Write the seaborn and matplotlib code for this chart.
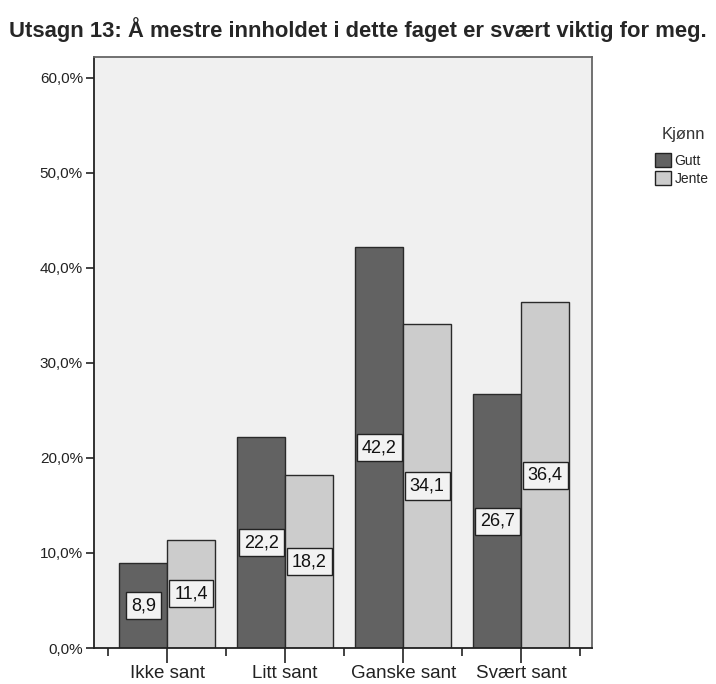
import matplotlib
matplotlib.use("Agg")
import matplotlib.pyplot as plt
from matplotlib.patches import Patch
from matplotlib.ticker import FixedLocator, FuncFormatter
import seaborn as sns
import pandas as pd

categories = ["Ikke sant", "Litt sant", "Ganske sant", "Svært sant"]
groups = ["Gutt", "Jente"]
gutt = [8.9, 22.2, 42.2, 26.7]
jente = [11.4, 18.2, 34.1, 36.4]
ytick_values = [0, 10, 20, 30, 40, 50, 60]

title = "Utsagn 13: Å mestre innholdet i dette faget er svært viktig for meg."
legend_title = "Kjønn"

colors = {"Gutt": "#626262", "Jente": "#cccccc"}

df = pd.DataFrame({
    "kategori": categories * 2,
    "kjonn": ["Gutt"] * len(categories) + ["Jente"] * len(categories),
    "prosent": gutt + jente,
})

sns.set_style("ticks")
plt.rcParams["font.family"] = ["Liberation Sans", "DejaVu Sans"]

fig = plt.figure(figsize=(7.16, 6.84), dpi=100)
ax = fig.add_axes([94 / 716, 1 - 648 / 684, (592 - 94) / 716, (648 - 57) / 684])
ax.set_facecolor("#f0f0f0")

sns.barplot(
    data=df, x="kategori", y="prosent", hue="kjonn",
    order=categories, hue_order=groups, palette=colors,
    width=0.81, edgecolor="#2a2a2a", linewidth=1.0,
    legend=False, ax=ax, errorbar=None, saturation=1,
)

# value labels in the middle of each bar
for container, vals in zip(ax.containers, [gutt, jente]):
    ax.bar_label(
        container,
        labels=[f"{v:.1f}".replace(".", ",") for v in vals],
        label_type="center", fontsize=13, color="#111111",
        bbox=dict(boxstyle="square,pad=0.28", facecolor="#f2f2f2",
                  edgecolor="#222222", linewidth=1.0),
    )

ax.set_xlim(-0.62, 3.6)
ax.set_ylim(0, 62.2)
ax.set_xlabel("")
ax.set_ylabel("")

ax.yaxis.set_major_locator(FixedLocator(ytick_values))
ax.yaxis.set_major_formatter(FuncFormatter(lambda v, p: f"{v:.1f}%".replace(".", ",")))
ax.tick_params(axis="y", length=6, width=1.2, color="#222222", labelsize=11,
               labelcolor="#222222", pad=2)

ax.set_xticks(range(len(categories)))
ax.set_xticklabels(categories, fontsize=13.5, color="#222222")
ax.set_xticks([i - 0.5 for i in range(len(categories) + 1)], minor=True)
ax.tick_params(axis="x", which="major", length=11, width=1.2, color="#222222", pad=1)
ax.tick_params(axis="x", which="minor", length=6, width=1.2, color="#222222")

for side in ["left", "bottom"]:
    ax.spines[side].set_color("#222222")
    ax.spines[side].set_linewidth(1.3)
for side in ["top", "right"]:
    ax.spines[side].set_color("#666666")
    ax.spines[side].set_linewidth(1.3)

fig.text(0.5, 1 - 30 / 684, title, ha="center", va="center",
         fontsize=15.8, fontweight="bold")

# legend: heading as its own text, entries below it
fig.text(683 / 716, 1 - 135 / 684, legend_title, ha="center", va="center",
         fontsize=12, color="#333333")
handles = [Patch(facecolor=colors[g], edgecolor="#222222", linewidth=1.0, label=g)
           for g in groups]
fig.legend(
    handles=handles, loc="upper left",
    bbox_to_anchor=(655 / 716, 1 - 153 / 684), frameon=False,
    fontsize=10, handlelength=1.15, handleheight=1.15,
    handletextpad=0.25, labelspacing=0.25, borderaxespad=0, borderpad=0,
)

fig.savefig("out.png", dpi=100)
